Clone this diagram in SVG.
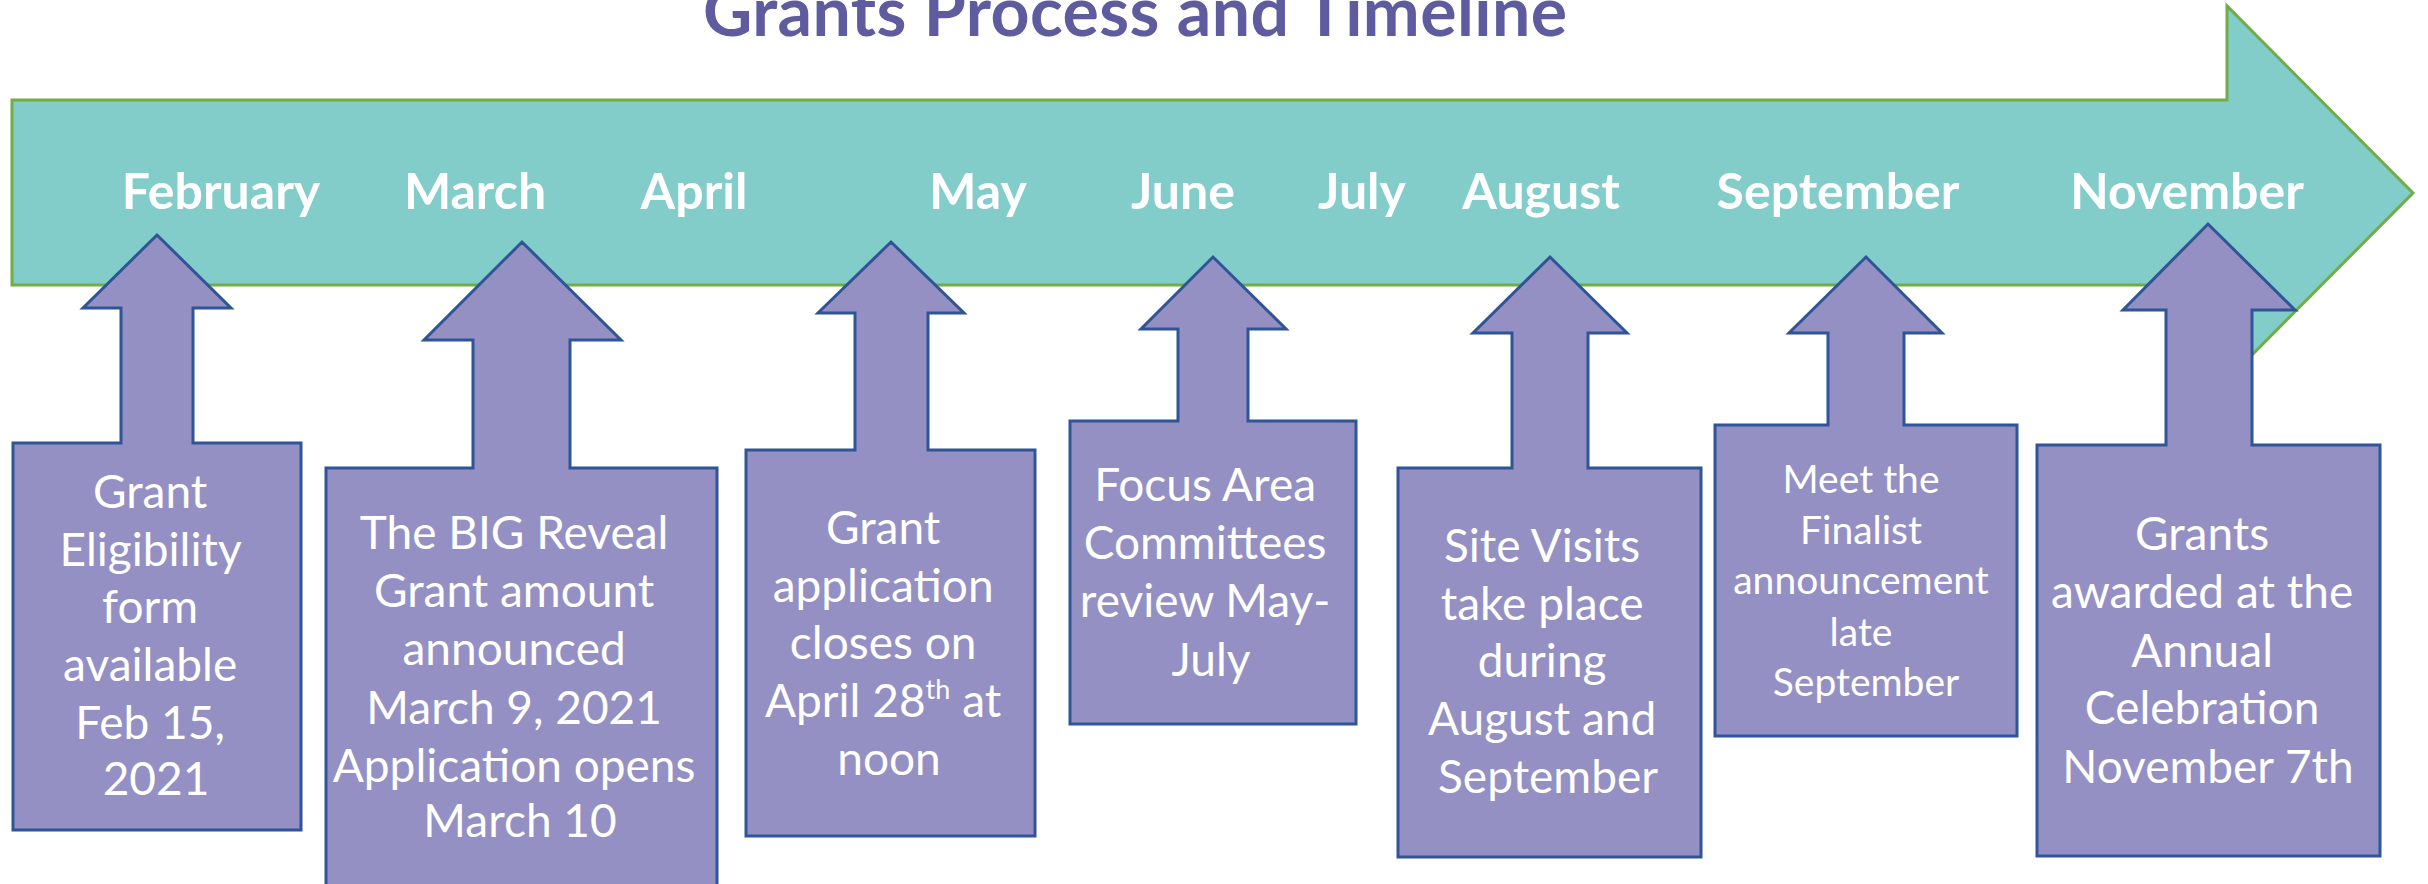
<svg xmlns="http://www.w3.org/2000/svg" width="2428" height="884" viewBox="0 0 2428 884">
  <style>
    .title { font-family: Lato, "Open Sans", "Liberation Sans", sans-serif; font-weight: 700; font-size: 68px; fill: #5F5B9F; }
    .month { font-family: Lato, "Open Sans", "Liberation Sans", sans-serif; font-weight: 700; font-size: 50px; fill: #FFFFFF; text-anchor: middle; }
    .timeline { fill: #82CCCA; stroke: #70AD47; stroke-width: 3; }
    .callout { fill: #9490C4; stroke: #2F5597; stroke-width: 3; }
    .note { font-family: Lato, "Open Sans", "Liberation Sans", sans-serif; font-size: 46px; fill: #FFFFFF; text-anchor: middle; }
    .note-sm { font-size: 39px; }
  </style>

  <!-- heading -->
  <text class="title" x="1135" y="36" text-anchor="middle" textLength="864">Grants Process and Timeline</text>

  <!-- timeline arrow with month labels -->
  <g id="timeline">
    <path class="timeline" d="M12,100 H2227 V6 L2413,193 L2227,380 V285 H12 Z"/>
    <text class="month" x="221" y="209">February</text>
    <text class="month" x="475" y="209">March</text>
    <text class="month" x="694" y="209">April</text>
    <text class="month" x="978" y="209">May</text>
    <text class="month" x="1183" y="209">June</text>
    <text class="month" x="1362" y="209">July</text>
    <text class="month" x="1541" y="209">August</text>
    <text class="month" x="1838" y="209">September</text>
    <text class="month" x="2187" y="209">November</text>
  </g>

  <!-- up-arrow callouts -->
  <g id="connectors"></g>

  <g id="step-eligibility">
    <path class="callout" d="M13,443 H121 V308 H83 L157,235 L231,308 H193 V443 H301 V830 H13 Z"/>
    <text class="note" x="156">
      <tspan x="156" y="508">Grant</tspan>
      <tspan x="156" y="566">Eligibility</tspan>
      <tspan x="156" y="623">form</tspan>
      <tspan x="156" y="681">available</tspan>
      <tspan x="156" y="739">Feb 15,</tspan>
      <tspan x="156" y="795">2021</tspan>
    </text>
  </g>

  <g id="step-reveal">
    <path class="callout" d="M326,468 H473 V340 H424 L522,242 L621,340 H570 V468 H717 V900 H326 Z"/>
    <text class="note">
      <tspan x="520" y="549">The BIG Reveal</tspan>
      <tspan x="520" y="607">Grant amount</tspan>
      <tspan x="520" y="665">announced</tspan>
      <tspan x="520" y="724">March 9, 2021</tspan>
      <tspan x="520" y="782">Application opens</tspan>
      <tspan x="520" y="837">March 10</tspan>
    </text>
  </g>

  <g id="step-close">
    <path class="callout" d="M746,450 H855 V313 H818 L891,242 L964,313 H928 V450 H1035 V836 H746 Z"/>
    <text class="note">
      <tspan x="889" y="544">Grant</tspan>
      <tspan x="889" y="602">application</tspan>
      <tspan x="889" y="659">closes on</tspan>
      <tspan x="889" y="717">April 28<tspan font-size="27" dy="-18">th</tspan><tspan dy="18"> at</tspan></tspan>
      <tspan x="889" y="775">noon</tspan>
    </text>
  </g>

  <g id="step-review">
    <path class="callout" d="M1070,421 H1178 V329 H1141 L1213,257 L1286,329 H1248 V421 H1356 V724 H1070 Z"/>
    <text class="note">
      <tspan x="1211" y="501">Focus Area</tspan>
      <tspan x="1211" y="559">Committees</tspan>
      <tspan x="1211" y="617">review May-</tspan>
      <tspan x="1211" y="676">July</tspan>
    </text>
  </g>

  <g id="step-visits">
    <path class="callout" d="M1398,468 H1512 V333 H1473 L1550,257 L1627,333 H1588 V468 H1701 V857 H1398 Z"/>
    <text class="note">
      <tspan x="1548" y="562">Site Visits</tspan>
      <tspan x="1548" y="620">take place</tspan>
      <tspan x="1548" y="677">during</tspan>
      <tspan x="1548" y="735">August and</tspan>
      <tspan x="1548" y="793">September</tspan>
    </text>
  </g>

  <g id="step-finalists">
    <path class="callout" d="M1715,425 H1828 V333 H1789 L1866,257 L1942,333 H1904 V425 H2017 V736 H1715 Z"/>
    <text class="note note-sm">
      <tspan x="1866" y="493">Meet the</tspan>
      <tspan x="1866" y="544">Finalist</tspan>
      <tspan x="1866" y="594">announcement</tspan>
      <tspan x="1866" y="646">late</tspan>
      <tspan x="1866" y="696">September</tspan>
    </text>
  </g>

  <g id="step-awards">
    <path class="callout" d="M2037,445 H2166 V310 H2123 L2208,224 L2295,310 H2252 V445 H2380 V856 H2037 Z"/>
    <text class="note">
      <tspan x="2208" y="550">Grants</tspan>
      <tspan x="2208" y="608">awarded at the</tspan>
      <tspan x="2208" y="667">Annual</tspan>
      <tspan x="2208" y="724">Celebration</tspan>
      <tspan x="2208" y="783">November 7th</tspan>
    </text>
  </g>
</svg>
